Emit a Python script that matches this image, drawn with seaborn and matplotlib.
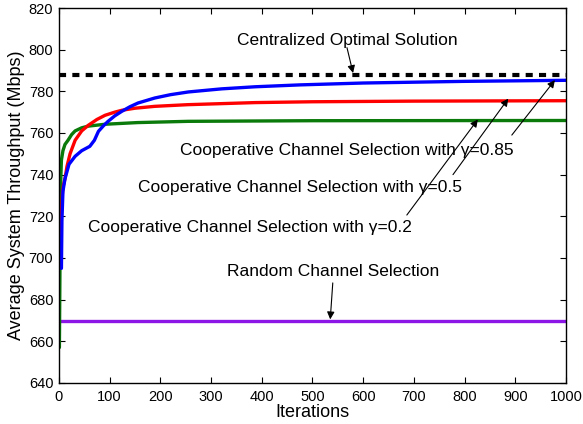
import numpy as np
import pandas as pd
import matplotlib
matplotlib.use("Agg")
import matplotlib.pyplot as plt
import seaborn as sns

# ---- data ----
blue_iter = [5, 6, 8, 12, 20, 32, 45, 61, 70, 78, 88, 97, 110, 124, 140, 156, 189, 220, 255, 321, 387, 475, 600, 800, 1000]
blue_val = [695, 718, 732, 738, 745, 748.8, 751.5, 753.6, 756.5, 760.8, 763.5, 765.6, 768.2, 770.4, 772.6, 774.4, 776.8, 778.4, 779.7, 781.2, 782.2, 783.1, 784, 784.8, 785.3]

red_iter = [4, 5, 7, 9, 12, 16, 22, 32, 45, 58, 75, 91, 110, 124, 150, 189, 254, 387, 500, 700, 1000]
red_val = [711, 722, 731, 735, 738, 744, 750, 756.5, 761, 763.7, 766.5, 768.5, 770, 770.9, 771.9, 772.8, 773.6, 774.6, 775, 775.3, 775.5]

green_iter = [1, 2, 3, 4, 5, 8, 12, 18, 25, 32, 45, 58, 91, 155, 255, 500, 1000]
green_val = [657, 690, 725, 740, 747, 751.5, 754.5, 756.5, 759.2, 761, 762.5, 763.3, 764.2, 765, 765.6, 765.9, 766]

opt_iter = [0, 1000]
opt_val = [788, 788]

rand_iter = [1, 1000]
rand_val = [669.7, 669.7]

x_ticks = [0, 100, 200, 300, 400, 500, 600, 700, 800, 900, 1000]
y_ticks = [640, 660, 680, 700, 720, 740, 760, 780, 800, 820]

sns.set_style("ticks")
plt.rcParams['font.family'] = ['Liberation Sans', 'DejaVu Sans']
plt.rcParams['xtick.direction'] = 'in'
plt.rcParams['ytick.direction'] = 'in'
for k in ['text.color', 'axes.labelcolor', 'xtick.color', 'ytick.color', 'axes.edgecolor']:
    plt.rcParams[k] = 'black'

fig = plt.figure(figsize=(5.83, 4.24), dpi=100)
ax = fig.add_axes([0.101, 0.097, 0.870, 0.884])

lw = 2.4
sns.lineplot(x=rand_iter, y=rand_val, ax=ax, color='#8b16e6', lw=lw)
sns.lineplot(x=green_iter, y=green_val, ax=ax, color='#0a7a0a', lw=lw)
sns.lineplot(x=red_iter, y=red_val, ax=ax, color='#ff0000', lw=lw)
sns.lineplot(x=blue_iter, y=blue_val, ax=ax, color='#0000ff', lw=lw)
l, = ax.plot(opt_iter, opt_val, color='black', lw=3.0)
l.set_dashes([1.7, 1.5])

ax.set_xlim(0, 1000)
ax.set_ylim(640, 820)
ax.set_xticks(x_ticks)
ax.set_yticks(y_ticks)
ax.tick_params(axis='both', which='both', top=True, right=True, labelsize=10.5,
               length=4, width=0.8, colors='black')
ax.tick_params(axis='x', pad=5)
ax.tick_params(axis='y', pad=4)
for s in ax.spines.values():
    s.set_linewidth(1.0)
    s.set_visible(True)
    s.set_color('black')
ax.set_xlabel('Iterations', fontsize=13, labelpad=0, color='black')
ax.set_ylabel('Average System Throughput (Mbps)', fontsize=13, labelpad=3, color='black')

fs = 12.5
ap = dict(arrowstyle='-|>', color='black', lw=0.8, mutation_scale=11, shrinkA=0, shrinkB=0)
ax.text(568, 804.6, 'Centralized Optimal Solution', ha='center', va='center', fontsize=fs, color='black')
ax.annotate('', xy=(580, 788.8), xytext=(568, 801), arrowprops=ap)

ax.text(568, 751.8, 'Cooperative Channel Selection with γ=0.85', ha='center', va='center', fontsize=fs, color='black')
ax.annotate('', xy=(978, 785.4), xytext=(893, 759), arrowprops=ap)

ax.text(475, 733.6, 'Cooperative Channel Selection with γ=0.5', ha='center', va='center', fontsize=fs, color='black')
ax.annotate('', xy=(886, 776.5), xytext=(777, 740), arrowprops=ap)

ax.text(377, 714.4, 'Cooperative Channel Selection with γ=0.2', ha='center', va='center', fontsize=fs, color='black')
ax.annotate('', xy=(826, 766.5), xytext=(686, 720.6), arrowprops=ap)

ax.text(540, 693.3, 'Random Channel Selection', ha='center', va='center', fontsize=fs, color='black')
ax.annotate('', xy=(535, 670.5), xytext=(540, 688), arrowprops=ap)

fig.savefig('out.png', dpi=100)
